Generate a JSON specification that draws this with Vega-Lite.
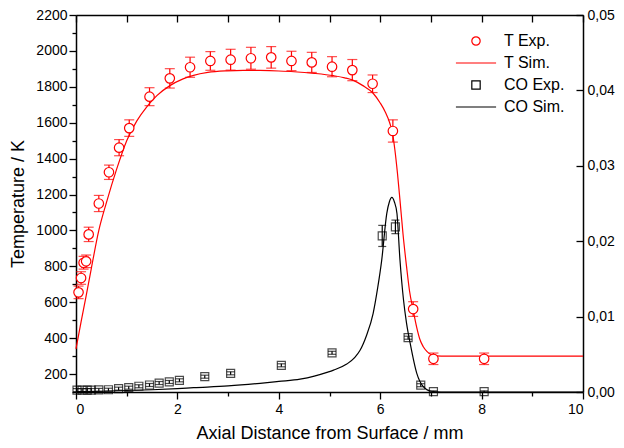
{
  "$schema": "https://vega.github.io/schema/vega-lite/v6.json",
  "width": 507,
  "height": 377,
  "autosize": {"type": "none"},
  "padding": {"left": 76, "top": 15, "right": 41, "bottom": 56},
  "config": {
    "font": "Liberation Sans",
    "view": {"stroke": null},
    "axis": {
      "grid": false,
      "labelOverlap": false,
      "domainColor": "black",
      "domainWidth": 1.5,
      "tickColor": "black",
      "tickWidth": 1.3,
      "labelColor": "black",
      "titleColor": "black",
      "labelFontSize": 14,
      "titleFontSize": 18,
      "titleFontWeight": "normal",
      "labelFont": "Liberation Sans",
      "titleFont": "Liberation Sans"
    },
    "legend": {"labelFont": "Liberation Sans"}
  },
  "datasets": {
    "texp": [
      {"x": 0.05, "y": 655, "err": 35},
      {"x": 0.1, "y": 735, "err": 35},
      {"x": 0.15, "y": 820, "err": 35},
      {"x": 0.2, "y": 828, "err": 35},
      {"x": 0.25, "y": 978, "err": 40},
      {"x": 0.45, "y": 1150, "err": 45},
      {"x": 0.65, "y": 1324, "err": 40},
      {"x": 0.85, "y": 1461, "err": 45},
      {"x": 1.05, "y": 1570, "err": 46},
      {"x": 1.45, "y": 1745, "err": 50},
      {"x": 1.85, "y": 1847, "err": 54},
      {"x": 2.25, "y": 1909, "err": 56},
      {"x": 2.65, "y": 1944, "err": 52},
      {"x": 3.05, "y": 1951, "err": 58},
      {"x": 3.45, "y": 1959, "err": 61},
      {"x": 3.85, "y": 1964, "err": 60},
      {"x": 4.25, "y": 1944, "err": 54},
      {"x": 4.65, "y": 1936, "err": 56},
      {"x": 5.05, "y": 1912, "err": 56},
      {"x": 5.45, "y": 1893, "err": 59},
      {"x": 5.85, "y": 1817, "err": 49},
      {"x": 6.25, "y": 1554, "err": 62},
      {"x": 6.65, "y": 562, "err": 41},
      {"x": 7.05, "y": 285, "err": 32},
      {"x": 8.05, "y": 285, "err": 32}
    ],
    "tsim": [
      {"x": 0, "y": 340},
      {"x": 0.1, "y": 490},
      {"x": 0.2, "y": 635},
      {"x": 0.3, "y": 785},
      {"x": 0.45, "y": 1000},
      {"x": 0.6, "y": 1155},
      {"x": 0.8, "y": 1340},
      {"x": 1.0, "y": 1500},
      {"x": 1.2, "y": 1610},
      {"x": 1.4, "y": 1690},
      {"x": 1.6, "y": 1752},
      {"x": 1.86, "y": 1808},
      {"x": 2.1, "y": 1843},
      {"x": 2.32, "y": 1864},
      {"x": 2.6, "y": 1880},
      {"x": 2.97, "y": 1889},
      {"x": 3.3, "y": 1892},
      {"x": 3.63, "y": 1891},
      {"x": 4.0, "y": 1888},
      {"x": 4.3, "y": 1884},
      {"x": 4.7, "y": 1875},
      {"x": 5.08, "y": 1862},
      {"x": 5.3, "y": 1850},
      {"x": 5.47, "y": 1836},
      {"x": 5.65, "y": 1808},
      {"x": 5.86, "y": 1764},
      {"x": 6.0, "y": 1710},
      {"x": 6.1, "y": 1660},
      {"x": 6.19, "y": 1597},
      {"x": 6.25, "y": 1530},
      {"x": 6.29, "y": 1448},
      {"x": 6.34, "y": 1320},
      {"x": 6.39, "y": 1169},
      {"x": 6.45, "y": 980},
      {"x": 6.52, "y": 798},
      {"x": 6.58, "y": 660},
      {"x": 6.65, "y": 557},
      {"x": 6.72, "y": 460},
      {"x": 6.78, "y": 395},
      {"x": 6.85, "y": 352},
      {"x": 6.92, "y": 326},
      {"x": 7.0, "y": 309},
      {"x": 7.11, "y": 301},
      {"x": 7.3, "y": 300},
      {"x": 8, "y": 300},
      {"x": 10, "y": 300}
    ],
    "coexp": [
      {"x": 0.02, "y": 0.00025, "err": 0.0002},
      {"x": 0.12, "y": 0.00025, "err": 0.0002},
      {"x": 0.22, "y": 0.00025, "err": 0.0002},
      {"x": 0.3, "y": 0.00026, "err": 0.0002},
      {"x": 0.45, "y": 0.00028, "err": 0.0002},
      {"x": 0.64, "y": 0.0003, "err": 0.0002},
      {"x": 0.84, "y": 0.00044, "err": 0.0002},
      {"x": 1.04, "y": 0.00057, "err": 0.0002},
      {"x": 1.24, "y": 0.00076, "err": 0.0002},
      {"x": 1.45, "y": 0.00093, "err": 0.0002},
      {"x": 1.64, "y": 0.00119, "err": 0.0002},
      {"x": 1.84, "y": 0.00133, "err": 0.0002},
      {"x": 2.04, "y": 0.00155, "err": 0.0002},
      {"x": 2.54, "y": 0.00203, "err": 0.0002},
      {"x": 3.05, "y": 0.00248, "err": 0.0002},
      {"x": 4.05, "y": 0.00354, "err": 0.0002},
      {"x": 5.05, "y": 0.0052, "err": 0.0002},
      {"x": 6.04, "y": 0.0207, "err": 0.0014},
      {"x": 6.3, "y": 0.0219, "err": 0.0009},
      {"x": 6.55, "y": 0.0072, "err": 0.0002},
      {"x": 6.8, "y": 0.0009, "err": 0.0002},
      {"x": 7.05, "y": 0.00005, "err": 0.0001},
      {"x": 8.05, "y": 0.00005, "err": 0.0001}
    ],
    "cosim": [
      {"x": 0, "y": 0.00005},
      {"x": 0.5, "y": 0.0001},
      {"x": 1.0, "y": 0.0002},
      {"x": 1.5, "y": 0.0003},
      {"x": 2.0, "y": 0.00045},
      {"x": 2.32, "y": 0.00057},
      {"x": 3.0, "y": 0.0008},
      {"x": 3.63, "y": 0.00115},
      {"x": 4.0, "y": 0.0014},
      {"x": 4.42, "y": 0.0017},
      {"x": 4.7, "y": 0.0021},
      {"x": 4.95, "y": 0.0026},
      {"x": 5.08, "y": 0.0029},
      {"x": 5.34, "y": 0.0037},
      {"x": 5.5, "y": 0.0046},
      {"x": 5.6, "y": 0.0055},
      {"x": 5.73, "y": 0.0075},
      {"x": 5.86, "y": 0.0104},
      {"x": 5.95, "y": 0.0138},
      {"x": 6.03, "y": 0.0175},
      {"x": 6.13, "y": 0.0237},
      {"x": 6.18, "y": 0.0252},
      {"x": 6.23, "y": 0.0258},
      {"x": 6.28, "y": 0.0252},
      {"x": 6.33, "y": 0.0237},
      {"x": 6.39, "y": 0.0175},
      {"x": 6.46, "y": 0.0122},
      {"x": 6.52, "y": 0.0091},
      {"x": 6.59, "y": 0.0065},
      {"x": 6.72, "y": 0.0025},
      {"x": 6.85, "y": 0.0007},
      {"x": 7.0, "y": 0.0001},
      {"x": 7.2, "y": 0.0},
      {"x": 10, "y": 0.0}
    ]
  },
  "layer": [
    {
      "data": {"values": [{}]},
      "mark": {"type": "rule", "opacity": 0},
      "encoding": {
        "y": {"datum": 100, "type": "quantitative", "scale": {"domain": [100, 2200], "nice": false, "zero": false},
          "axis": {"orient": "left", "title": "Temperature / K", "labelOverlap": false,
            "values": [100,200,300,400,500,600,700,800,900,1000,1100,1200,1300,1400,1500,1600,1700,1800,1900,2000,2100,2200],
            "labelExpr": "datum.value % 200 == 0 ? format(datum.value, 'd') : ''",
            "tickSize": {"condition": {"test": "datum.value % 200 == 0", "value": 7}, "value": 4},
            "labelPadding": 2, "titlePadding": 8}}
      }
    },
    {
      "layer": [
        {
          "data": {"name": "tsim"},
          "transform": [{"calculate": "'T Sim.'", "as": "series"}],
          "mark": {"type": "line", "strokeWidth": 1.2, "interpolate": "monotone"},
          "encoding": {
            "x": {"field": "x", "type": "quantitative", "scale": {"domain": [0, 10], "nice": false},
              "title": "Axial Distance from Surface / mm",
              "axis": {"orient": "bottom", "labelOverlap": false,
                "values": [0,1,2,3,4,5,6,7,8,9,10],
                "labelExpr": "datum.value % 2 == 0 ? datum.label : ''",
                "tickSize": {"condition": {"test": "datum.value % 2 == 0", "value": 7}, "value": 4},
                "labelPadding": 3, "titlePadding": 8}},
            "y": {"field": "y", "type": "quantitative", "scale": {"domain": [100, 2200], "nice": false, "zero": false},
              "axis": null},
            "stroke": {"field": "series", "type": "nominal",
              "scale": {"domain": ["T Exp.", "T Sim.", "CO Exp.", "CO Sim."], "range": ["#ff0000", "#ff0000", "#000000", "#000000"]},
              "legend": {"title": null, "orient": "top-right", "offset": 18, "padding": 0,
                "labelFontSize": 16, "labelOffset": 20, "rowPadding": 6, "symbolSize": 70,
                "symbolStrokeWidth": 1.2, "symbolFillColor": "white"}}
          }
        },
        {
          "data": {"name": "texp"},
          "mark": {"type": "errorbar", "color": "#ff0000", "thickness": 1.2, "ticks": {"size": 10, "thickness": 1.2}},
          "encoding": {
            "x": {"field": "x", "type": "quantitative", "title": "Axial Distance from Surface / mm"},
            "y": {"field": "y", "type": "quantitative", "axis": null},
            "yError": {"field": "err"}
          }
        },
        {
          "data": {"name": "texp"},
          "transform": [{"calculate": "'T Exp.'", "as": "series"}],
          "mark": {"type": "point", "filled": false, "fill": "white", "fillOpacity": 1, "strokeWidth": 1.2, "size": 90},
          "encoding": {
            "x": {"field": "x", "type": "quantitative", "title": "Axial Distance from Surface / mm"},
            "y": {"field": "y", "type": "quantitative", "axis": null},
            "stroke": {"field": "series", "type": "nominal"},
            "shape": {"field": "series", "type": "nominal",
              "scale": {"domain": ["T Exp.", "T Sim.", "CO Exp.", "CO Sim."], "range": ["circle", "M-4.8,0H4.8", "square", "M-4.8,0H4.8"]},
              "legend": {"title": null}}
          }
        }
      ]
    },
    {
      "layer": [
        {
          "data": {"name": "cosim"},
          "transform": [{"calculate": "'CO Sim.'", "as": "series"}],
          "mark": {"type": "line", "strokeWidth": 1.2, "interpolate": "monotone"},
          "encoding": {
            "x": {"field": "x", "type": "quantitative", "title": null},
            "y": {"field": "y", "type": "quantitative", "scale": {"domain": [0, 0.05], "nice": false},
              "title": null,
              "axis": {"orient": "right", "labelOverlap": false,
                "values": [0,0.005,0.01,0.015,0.02,0.025,0.03,0.035,0.04,0.045,0.05],
                "labelExpr": "abs(datum.value*100 - round(datum.value*100)) < 0.001 ? replace(format(datum.value, '.2f'), '.', ',') : ''",
                "tickSize": {"condition": {"test": "abs(datum.value*100 - round(datum.value*100)) < 0.001", "value": -7}, "value": -4},
                "labelPadding": 11}},
            "stroke": {"field": "series", "type": "nominal"}
          }
        },
        {
          "data": {"name": "coexp"},
          "transform": [{"calculate": "'CO Exp.'", "as": "series"}],
          "mark": {"type": "point", "filled": false, "strokeWidth": 1.2, "size": 64},
          "encoding": {
            "x": {"field": "x", "type": "quantitative", "title": null},
            "y": {"field": "y", "type": "quantitative", "title": null},
            "stroke": {"field": "series", "type": "nominal"},
            "shape": {"field": "series", "type": "nominal"}
          }
        },
        {
          "data": {"name": "coexp"},
          "mark": {"type": "errorbar", "color": "#000000", "thickness": 1.2, "ticks": {"size": 8, "thickness": 1.2}},
          "encoding": {
            "x": {"field": "x", "type": "quantitative", "title": null},
            "y": {"field": "y", "type": "quantitative", "title": null},
            "yError": {"field": "err"}
          }
        },
        {
          "data": {"values": [{}]},
          "mark": {"type": "rule", "opacity": 0},
          "encoding": {
            "x": {"datum": 0, "type": "quantitative", "title": null,
              "axis": {"orient": "top", "labels": false,
                "values": [0,0.5,1,1.5,2,2.5,3,3.5,4,4.5,5,5.5,6,6.5,7,7.5,8,8.5,9,9.5,10],
                "tickSize": {"condition": {"test": "datum.value % 1 == 0", "value": -7}, "value": -4}}}
          }
        }
      ]
    }
  ],
  "resolve": {"scale": {"y": "independent"}, "axis": {"x": "independent"}}
}
